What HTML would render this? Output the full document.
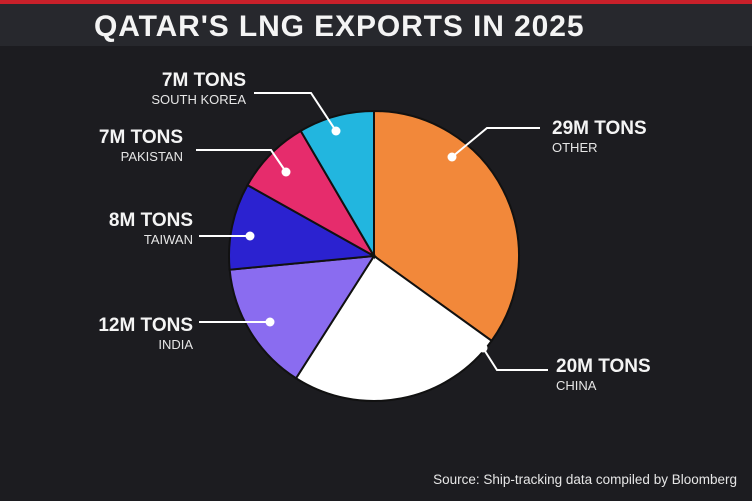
<!DOCTYPE html>
<html><head><meta charset="utf-8"><style>
html,body{margin:0;padding:0;background:#1c1c20;}
svg{display:block;font-family:"Liberation Sans",Arial,sans-serif;}
</style></head><body>
<svg width="752" height="501" viewBox="0 0 752 501">
<rect x="0" y="0" width="752" height="501" fill="#1c1c20"/>
<rect x="0" y="0" width="752" height="46" fill="#27282d"/>
<rect x="0" y="0" width="752" height="4" fill="#c8202a"/>
<text x="94" y="36" font-size="30" font-weight="bold" letter-spacing="0.9" fill="#f4f4f4">QATAR'S LNG EXPORTS IN 2025</text>
<g id="pie"></g>
<g id="labels"></g>
<text x="737" y="484" font-size="13.5" fill="#e6e6e6" text-anchor="end">Source: Ship-tracking data compiled by Bloomberg</text>
</svg>
<script>
const categories = ["OTHER","CHINA","INDIA","TAIWAN","PAKISTAN","SOUTH KOREA"];
const values = [29,20,12,8,7,7];
const valueLabels = ["29M TONS","20M TONS","12M TONS","8M TONS","7M TONS","7M TONS"];
const colors = ["#f2883a","#ffffff","#8a6cf0","#2b22d0","#e62c6c","#22b6df"];
const cx=374, cy=256, R=145;
const total = values.reduce((a,b)=>a+b,0);
function pt(a,r){return [cx+r*Math.sin(a), cy-r*Math.cos(a)];}
const NS="http://www.w3.org/2000/svg";
const pie=document.getElementById('pie');
let a0=0;
values.forEach((v,i)=>{
  const a1=a0+v/total*2*Math.PI;
  const p0=pt(a0,R), p1=pt(a1,R);
  const large=(a1-a0)>Math.PI?1:0;
  const p=document.createElementNS(NS,'path');
  p.setAttribute('d',`M${cx},${cy} L${p0[0]},${p0[1]} A${R},${R} 0 ${large} 1 ${p1[0]},${p1[1]} Z`);
  p.setAttribute('fill',colors[i]);
  p.setAttribute('stroke','#111');
  p.setAttribute('stroke-width','2');
  
  
  pie.appendChild(p);
  a0=a1;
});
const layout=[
 {line:"540,128 487,128 452,157",tx:552,ty:134,anchor:"start"},
 {line:"548,370 497,370 483,348",tx:556,ty:372,anchor:"start"},
 {line:"199,322 270,322",tx:193,ty:331,anchor:"end"},
 {line:"199,236 250,236",tx:193,ty:226,anchor:"end"},
 {line:"196,150 271,150 286,172",tx:183,ty:143,anchor:"end"},
 {line:"254,93 311,93 336,131",tx:246,ty:86,anchor:"end"}
];
const labels=document.getElementById('labels');
categories.forEach((c,i)=>{
  const L=layout[i];
  const pl=document.createElementNS(NS,'polyline');
  pl.setAttribute('points',L.line);
  pl.setAttribute('fill','none');pl.setAttribute('stroke','#ffffff');pl.setAttribute('stroke-width','2');
  
  
  labels.appendChild(pl);
  const pts=L.line.split(' ');const last=pts[pts.length-1].split(',');
  const d=document.createElementNS(NS,'circle');
  d.setAttribute('cx',last[0]);d.setAttribute('cy',last[1]);d.setAttribute('r','4.5');d.setAttribute('fill','#fff');
  
  
  labels.appendChild(d);
  const t1=document.createElementNS(NS,'text');
  t1.setAttribute('x',L.tx);t1.setAttribute('y',L.ty);t1.setAttribute('text-anchor',L.anchor);
  t1.setAttribute('font-size','19');t1.setAttribute('font-weight','bold');t1.setAttribute('fill','#f4f4f4');
  t1.textContent=valueLabels[i];
  
  
  labels.appendChild(t1);
  const t2=document.createElementNS(NS,'text');
  t2.setAttribute('x',L.tx);t2.setAttribute('y',L.ty+18);t2.setAttribute('text-anchor',L.anchor);
  t2.setAttribute('font-size','13');t2.setAttribute('fill','#e6e6e6');
  t2.textContent=c;
  
  
  labels.appendChild(t2);
});
</script>
</body></html>
